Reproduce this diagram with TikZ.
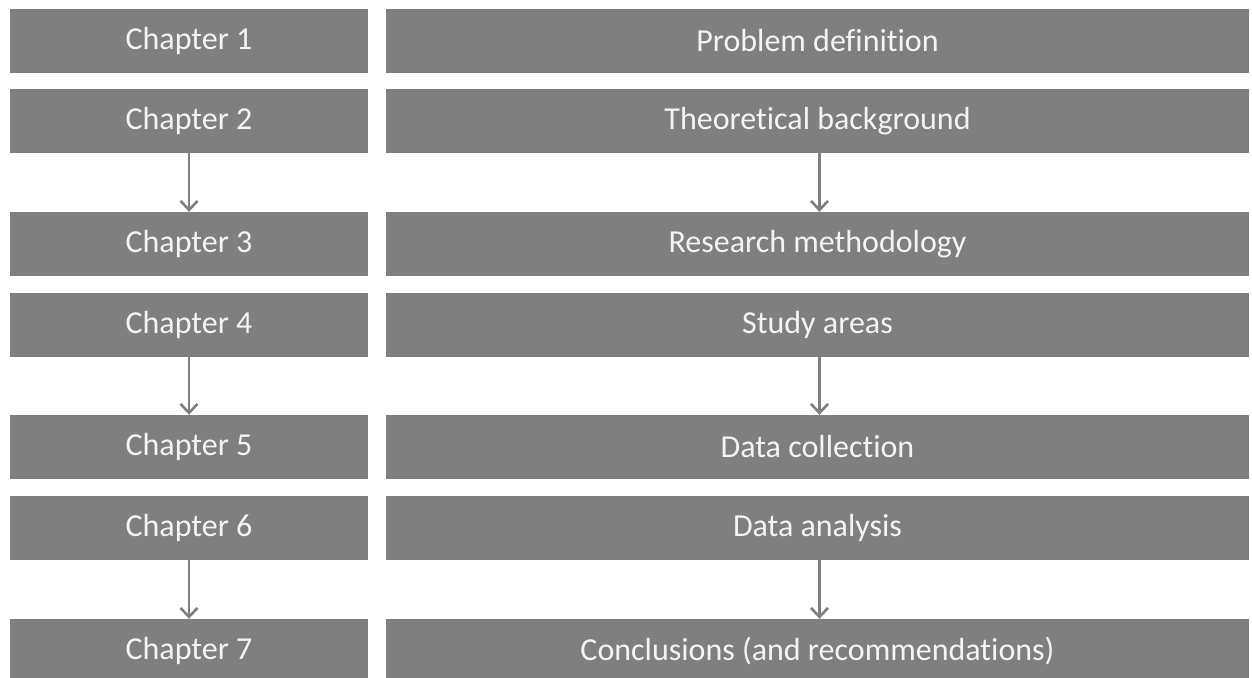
\documentclass[tikz,border=0pt]{standalone}
\usepackage{fontspec}
\setmainfont{Carlito}[Ligatures=NoCommon]
\usetikzlibrary{arrows.meta}
\definecolor{boxgray}{HTML}{7F7F7F}
\definecolor{boxtext}{HTML}{F4F4F4}
\tikzset{
  chapbox/.style={fill=boxgray, text=boxtext, minimum height=64pt, inner sep=0pt,
    font=\fontsize{32}{38}\selectfont},
  leftbox/.style={chapbox, minimum width=358pt},
  rightbox/.style={chapbox, minimum width=863pt},
  flow/.style={draw=boxgray, line width=2.6pt, -{Straight Barb[length=9pt,width=17pt,line width=2.6pt]}}
}
\begin{document}
\begin{tikzpicture}[x=1pt, y=-1pt]
  \useasboundingbox (0,0) rectangle (1252,677);
  % chapter column
  \node[leftbox] (c1) at (189,41) {Chapter 1};
  \node[leftbox] (c2) at (189,121) {Chapter 2};
  \node[leftbox] (c3) at (189,244) {Chapter 3};
  \node[leftbox] (c4) at (189,325) {Chapter 4};
  \node[leftbox] (c5) at (189,447) {Chapter 5};
  \node[leftbox] (c6) at (189,528) {Chapter 6};
  \node[leftbox] (c7) at (189,651) {Chapter 7};
  % contents column
  \node[rightbox] (t1) at (817.5,41) {Problem definition};
  \node[rightbox] (t2) at (817.5,121) {Theoretical background};
  \node[rightbox] (t3) at (817.5,244) {Research methodology};
  \node[rightbox] (t4) at (817.5,325) {Study areas};
  \node[rightbox] (t5) at (817.5,447) {Data collection};
  \node[rightbox] (t6) at (817.5,528) {Data analysis};
  \node[rightbox] (t7) at (817.5,651) {Conclusions (and recommendations)};
  % arrows between the blocks
  \draw[flow] (c2) -- (c3);
  \draw[flow] (c4) -- (c5);
  \draw[flow] (c6) -- (c7);
  \draw[flow] ([xshift=2pt]t2.south) -- ([xshift=2pt]t3.north);
  \draw[flow] ([xshift=2pt]t4.south) -- ([xshift=2pt]t5.north);
  \draw[flow] ([xshift=2pt]t6.south) -- ([xshift=2pt]t7.north);
\end{tikzpicture}
\end{document}
